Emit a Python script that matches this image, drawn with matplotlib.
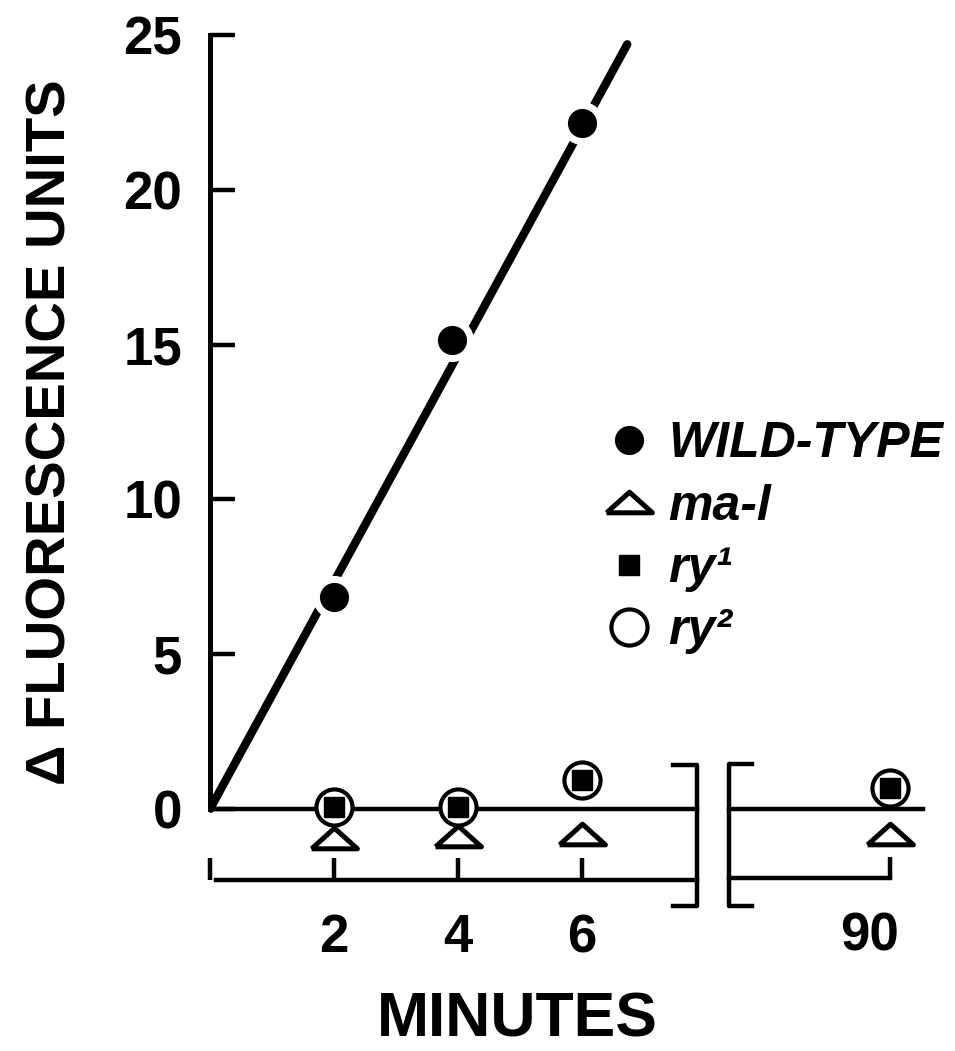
import matplotlib
matplotlib.use("Agg")
import matplotlib.pyplot as plt
from matplotlib.transforms import ScaledTranslation

# --- Données ---
wt_minutes = [2, 3.9, 6]
wt_values = [6.86, 15.15, 22.17]
fit_minutes = [0, 6.73]
fit_values = [0, 24.7]

mut_minutes = [2, 4, 6]
ma_l_values = [-0.93, -0.87, -0.81]
ry1_values = [0.05, 0.05, 0.94]
ry2_values = [0.05, 0.05, 0.94]

late_minutes = [90]
ma_l_late = [-0.8]
ry1_late = [0.69]
ry2_late = [0.69]

y_ticks = [0, 5, 10, 15, 20, 25]
x_ticks = [0, 2, 4, 6]
x_tick_labels = ["", "2", "4", "6"]
late_ticks = [90]
late_tick_labels = ["90"]

plt.rcParams["font.family"] = ["Liberation Sans", "DejaVu Sans"]
plt.rcParams["font.weight"] = "bold"

W, H = 955, 1051
ppm = 62.0            # pixels par minute
ppu = 30.96           # pixels par unité de fluorescence
y0_px = 809
ylim = ((y0_px - H) / ppu, y0_px / ppu)

def ypx(p):
    return (y0_px - p) / ppu

fig = plt.figure(figsize=(W / 100, H / 100), dpi=100)
ax1 = fig.add_axes([210 / W, 0, 490 / W, 1])
ax2 = fig.add_axes([715 / W, 0, 240 / W, 1])

ax1.set_xlim(0, 490 / ppm)
ax2.set_xlim(90 - 175 / ppm, 90 + 65 / ppm)
for ax in (ax1, ax2):
    ax.set_ylim(*ylim)
    ax.patch.set_visible(False)
    ax.spines["top"].set_visible(False)
    ax.spines["right"].set_visible(False)

lw = 3.2
tri = [(-1, -0.45), (1, -0.45), (0, 0.45), (-1, -0.45)]

# panneau principal
ax1.spines["left"].set_bounds(0, 25)
ax1.spines["left"].set_linewidth(3.6)
ax1.spines["bottom"].set_position(("data", ypx(880)))
ax1.spines["bottom"].set_bounds(0.1, 7.85)
ax1.spines["bottom"].set_linewidth(lw)
ax1.set_yticks(y_ticks)
ax1.set_xticks(x_ticks)
ax1.set_xticklabels(x_tick_labels)
ax1.tick_params(axis="y", direction="in", length=18, width=lw, pad=20, labelsize=38)
ax1.tick_params(axis="x", direction="in", length=16, width=lw, pad=24, labelsize=38)

ax1.plot([0, 7.85], [0, 0], color="k", lw=lw, zorder=2)
ax1.plot([7.47, 7.85, 7.85, 7.47], [ypx(765), ypx(765), ypx(906), ypx(906)],
         color="k", lw=lw, clip_on=False)
ax1.plot(fit_minutes, fit_values, color="k", lw=6, solid_capstyle="round", zorder=3)

h_wt, = ax1.plot(wt_minutes, wt_values, "o", ms=26, mfc="k", mec="w", mew=5,
                 zorder=4, label="WILD-TYPE")
h_mal, = ax1.plot(mut_minutes, ma_l_values, ls="none", marker=tri, ms=33,
                  mfc="w", mec="k", mew=3.6, zorder=4, label="ma-l")
h_ry2, = ax1.plot(mut_minutes, ry2_values, "o", ms=26, mfc="w", mec="k", mew=3,
                  zorder=5, label="ry²")
h_ry1, = ax1.plot(mut_minutes, ry1_values, "s", ms=15, mfc="k", mec="k",
                  zorder=6, label="ry¹")

# panneau 90 min
ax2.spines["left"].set_visible(False)
ax2.spines["bottom"].set_position(("data", ypx(878)))
ax2.spines["bottom"].set_bounds(87.4, 90)
ax2.spines["bottom"].set_linewidth(lw)
ax2.set_yticks([])
ax2.set_xticks(late_ticks)
ax2.set_xticklabels(late_tick_labels)
ax2.tick_params(axis="x", direction="in", length=15, width=lw, pad=24, labelsize=38)
for lab in ax2.get_xticklabels():
    lab.set_transform(lab.get_transform() + ScaledTranslation(-0.2, 0, fig.dpi_scale_trans))

ax2.plot([87.4, 90.53], [0, 0], color="k", lw=lw, zorder=2)
ax2.plot([87.77, 87.4, 87.4, 87.77], [ypx(764), ypx(764), ypx(906), ypx(906)],
         color="k", lw=lw, clip_on=False)
ax2.plot(late_minutes, ma_l_late, ls="none", marker=tri, ms=33,
         mfc="w", mec="k", mew=3.6, zorder=4)
ax2.plot(late_minutes, ry2_late, "o", ms=26, mfc="w", mec="k", mew=3, zorder=5)
ax2.plot(late_minutes, ry1_late, "s", ms=15, mfc="k", mec="k", zorder=6)

# légende
leg = ax1.legend(handles=[h_wt, h_mal, h_ry1, h_ry2], loc="upper left",
                 bbox_to_anchor=(608 / W, 1 - 421 / H), bbox_transform=fig.transFigure,
                 frameon=False, handlelength=0.85, handletextpad=0.35, borderpad=0,
                 borderaxespad=0, labelspacing=0.33,
                 prop={"weight": "bold", "style": "italic", "size": 36})

# titres des axes
fig.text(52 / W, 1 - 432 / H, "Δ FLUORESCENCE UNITS", rotation=90,
         ha="center", va="center", fontweight="bold", fontsize=40.5)
fig.text(517 / W, 1 - 1020 / H, "MINUTES", ha="center", va="center",
         fontweight="bold", fontsize=45)

fig.savefig("out.png", dpi=100)
